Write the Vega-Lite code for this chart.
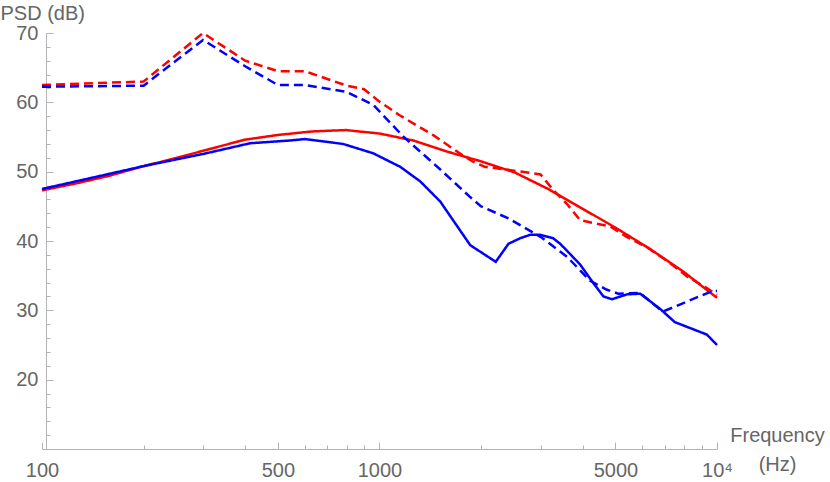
{
  "$schema": "https://vega.github.io/schema/vega-lite/v6.json",
  "autosize": "none",
  "width": 675,
  "height": 416,
  "padding": {"left": 42, "top": 33, "right": 113, "bottom": 33},
  "background": "white",
  "config": {
    "view": {"stroke": null},
    "font": "Liberation Sans",
    "axis": {
      "grid": false,
      "domainColor": "#b4b4b4",
      "tickColor": "#b4b4b4",
      "labelColor": "#666666",
      "titleColor": "#666666",
      "labelFont": "Liberation Sans",
      "titleFont": "Liberation Sans",
      "labelFontSize": 20,
      "titleFontSize": 20,
      "titleFontWeight": "normal"
    }
  },
  "data": {
    "values": [
      {"s": "rd", "c": "red", "d": "dashed", "f": 100, "v": 62.5},
      {"s": "rd", "c": "red", "d": "dashed", "f": 200, "v": 63.0},
      {"s": "rd", "c": "red", "d": "dashed", "f": 300, "v": 70.0},
      {"s": "rd", "c": "red", "d": "dashed", "f": 400, "v": 66.0},
      {"s": "rd", "c": "red", "d": "dashed", "f": 500, "v": 64.5},
      {"s": "rd", "c": "red", "d": "dashed", "f": 600, "v": 64.5},
      {"s": "rd", "c": "red", "d": "dashed", "f": 800, "v": 62.4},
      {"s": "rd", "c": "red", "d": "dashed", "f": 900, "v": 61.9},
      {"s": "rd", "c": "red", "d": "dashed", "f": 1000, "v": 60.1},
      {"s": "rd", "c": "red", "d": "dashed", "f": 1150, "v": 58.1},
      {"s": "rd", "c": "red", "d": "dashed", "f": 1450, "v": 55.2},
      {"s": "rd", "c": "red", "d": "dashed", "f": 1770, "v": 52.3},
      {"s": "rd", "c": "red", "d": "dashed", "f": 1900, "v": 51.4},
      {"s": "rd", "c": "red", "d": "dashed", "f": 2050, "v": 50.7},
      {"s": "rd", "c": "red", "d": "dashed", "f": 2300, "v": 50.4},
      {"s": "rd", "c": "red", "d": "dashed", "f": 3000, "v": 49.6},
      {"s": "rd", "c": "red", "d": "dashed", "f": 3280, "v": 47.3},
      {"s": "rd", "c": "red", "d": "dashed", "f": 3600, "v": 45.3},
      {"s": "rd", "c": "red", "d": "dashed", "f": 3930, "v": 43.0},
      {"s": "rd", "c": "red", "d": "dashed", "f": 4830, "v": 42.1},
      {"s": "rd", "c": "red", "d": "dashed", "f": 5400, "v": 40.6},
      {"s": "rd", "c": "red", "d": "dashed", "f": 6200, "v": 39.1},
      {"s": "rd", "c": "red", "d": "dashed", "f": 7270, "v": 36.8},
      {"s": "rd", "c": "red", "d": "dashed", "f": 8150, "v": 34.9},
      {"s": "rd", "c": "red", "d": "dashed", "f": 9330, "v": 33.2},
      {"s": "rd", "c": "red", "d": "dashed", "f": 10000, "v": 32.2},

      {"s": "rs", "c": "red", "d": "solid", "f": 100, "v": 47.3},
      {"s": "rs", "c": "red", "d": "solid", "f": 126, "v": 48.3},
      {"s": "rs", "c": "red", "d": "solid", "f": 158, "v": 49.4},
      {"s": "rs", "c": "red", "d": "solid", "f": 200, "v": 50.8},
      {"s": "rs", "c": "red", "d": "solid", "f": 251, "v": 52.0},
      {"s": "rs", "c": "red", "d": "solid", "f": 316, "v": 53.3},
      {"s": "rs", "c": "red", "d": "solid", "f": 398, "v": 54.6},
      {"s": "rs", "c": "red", "d": "solid", "f": 501, "v": 55.3},
      {"s": "rs", "c": "red", "d": "solid", "f": 631, "v": 55.8},
      {"s": "rs", "c": "red", "d": "solid", "f": 794, "v": 56.0},
      {"s": "rs", "c": "red", "d": "solid", "f": 1000, "v": 55.5},
      {"s": "rs", "c": "red", "d": "solid", "f": 1259, "v": 54.5},
      {"s": "rs", "c": "red", "d": "solid", "f": 1585, "v": 52.9},
      {"s": "rs", "c": "red", "d": "solid", "f": 1995, "v": 51.5},
      {"s": "rs", "c": "red", "d": "solid", "f": 2512, "v": 49.9},
      {"s": "rs", "c": "red", "d": "solid", "f": 3162, "v": 47.5},
      {"s": "rs", "c": "red", "d": "solid", "f": 3981, "v": 44.7},
      {"s": "rs", "c": "red", "d": "solid", "f": 5012, "v": 41.9},
      {"s": "rs", "c": "red", "d": "solid", "f": 6310, "v": 38.9},
      {"s": "rs", "c": "red", "d": "solid", "f": 7943, "v": 35.6},
      {"s": "rs", "c": "red", "d": "solid", "f": 10000, "v": 31.8},

      {"s": "bd", "c": "blue", "d": "dashed", "f": 100, "v": 62.25},
      {"s": "bd", "c": "blue", "d": "dashed", "f": 200, "v": 62.4},
      {"s": "bd", "c": "blue", "d": "dashed", "f": 300, "v": 69.0},
      {"s": "bd", "c": "blue", "d": "dashed", "f": 400, "v": 65.2},
      {"s": "bd", "c": "blue", "d": "dashed", "f": 500, "v": 62.5},
      {"s": "bd", "c": "blue", "d": "dashed", "f": 600, "v": 62.5},
      {"s": "bd", "c": "blue", "d": "dashed", "f": 800, "v": 61.5},
      {"s": "bd", "c": "blue", "d": "dashed", "f": 960, "v": 59.6},
      {"s": "bd", "c": "blue", "d": "dashed", "f": 1180, "v": 55.0},
      {"s": "bd", "c": "blue", "d": "dashed", "f": 1500, "v": 50.5},
      {"s": "bd", "c": "blue", "d": "dashed", "f": 1860, "v": 46.3},
      {"s": "bd", "c": "blue", "d": "dashed", "f": 2000, "v": 45.0},
      {"s": "bd", "c": "blue", "d": "dashed", "f": 2400, "v": 43.3},
      {"s": "bd", "c": "blue", "d": "dashed", "f": 3000, "v": 40.6},
      {"s": "bd", "c": "blue", "d": "dashed", "f": 3600, "v": 37.7},
      {"s": "bd", "c": "blue", "d": "dashed", "f": 4200, "v": 34.3},
      {"s": "bd", "c": "blue", "d": "dashed", "f": 4700, "v": 33.0},
      {"s": "bd", "c": "blue", "d": "dashed", "f": 5100, "v": 32.4},
      {"s": "bd", "c": "blue", "d": "dashed", "f": 5920, "v": 32.5},
      {"s": "bd", "c": "blue", "d": "dashed", "f": 6900, "v": 29.8},
      {"s": "bd", "c": "blue", "d": "dashed", "f": 9700, "v": 32.8},
      {"s": "bd", "c": "blue", "d": "dashed", "f": 10000, "v": 32.8},

      {"s": "bs", "c": "blue", "d": "solid", "f": 100, "v": 47.5},
      {"s": "bs", "c": "blue", "d": "solid", "f": 200, "v": 50.8},
      {"s": "bs", "c": "blue", "d": "solid", "f": 300, "v": 52.55},
      {"s": "bs", "c": "blue", "d": "solid", "f": 414, "v": 54.1},
      {"s": "bs", "c": "blue", "d": "solid", "f": 544, "v": 54.5},
      {"s": "bs", "c": "blue", "d": "solid", "f": 600, "v": 54.7},
      {"s": "bs", "c": "blue", "d": "solid", "f": 780, "v": 54.0},
      {"s": "bs", "c": "blue", "d": "solid", "f": 958, "v": 52.65},
      {"s": "bs", "c": "blue", "d": "solid", "f": 1152, "v": 50.7},
      {"s": "bs", "c": "blue", "d": "solid", "f": 1320, "v": 48.6},
      {"s": "bs", "c": "blue", "d": "solid", "f": 1513, "v": 45.7},
      {"s": "bs", "c": "blue", "d": "solid", "f": 1857, "v": 39.4},
      {"s": "bs", "c": "blue", "d": "solid", "f": 2210, "v": 37.0},
      {"s": "bs", "c": "blue", "d": "solid", "f": 2411, "v": 39.6},
      {"s": "bs", "c": "blue", "d": "solid", "f": 2612, "v": 40.4},
      {"s": "bs", "c": "blue", "d": "solid", "f": 2796, "v": 40.9},
      {"s": "bs", "c": "blue", "d": "solid", "f": 2993, "v": 40.9},
      {"s": "bs", "c": "blue", "d": "solid", "f": 3271, "v": 40.4},
      {"s": "bs", "c": "blue", "d": "solid", "f": 3430, "v": 39.6},
      {"s": "bs", "c": "blue", "d": "solid", "f": 3592, "v": 38.6},
      {"s": "bs", "c": "blue", "d": "solid", "f": 3932, "v": 36.6},
      {"s": "bs", "c": "blue", "d": "solid", "f": 4305, "v": 33.9},
      {"s": "bs", "c": "blue", "d": "solid", "f": 4610, "v": 32.0},
      {"s": "bs", "c": "blue", "d": "solid", "f": 4883, "v": 31.6},
      {"s": "bs", "c": "blue", "d": "solid", "f": 5408, "v": 32.3},
      {"s": "bs", "c": "blue", "d": "solid", "f": 5922, "v": 32.4},
      {"s": "bs", "c": "blue", "d": "solid", "f": 6787, "v": 30.2},
      {"s": "bs", "c": "blue", "d": "solid", "f": 7500, "v": 28.3},
      {"s": "bs", "c": "blue", "d": "solid", "f": 9333, "v": 26.5},
      {"s": "bs", "c": "blue", "d": "solid", "f": 10000, "v": 25.0}
    ]
  },
  "mark": {"type": "line", "strokeWidth": 2.5, "clip": false},
  "encoding": {
    "x": {
      "field": "f",
      "type": "quantitative",
      "scale": {"type": "log", "domain": [100, 10000], "nice": false},
      "axis": {
        "values": [100, 200, 300, 400, 500, 600, 700, 800, 900, 1000, 2000, 3000, 4000, 5000, 6000, 7000, 8000, 9000, 10000],
        "labelExpr": "datum.value == 100 ? '100' : datum.value == 500 ? '500' : datum.value == 1000 ? '1000' : datum.value == 5000 ? '5000' : datum.value == 10000 ? '10⁴' : ''",
        "labelOverlap": false,
        "labelFlush": false,
        "tickSize": {"condition": {"test": "datum.value == 100 || datum.value == 500 || datum.value == 1000 || datum.value == 5000 || datum.value == 10000", "value": -7}, "value": -4},
        "labelPadding": 18,
        "title": ["Frequency", "(Hz)"],
        "titleAlign": "center",
        "titleBaseline": "alphabetic",
        "titleAnchor": null,
        "titleX": 735,
        "titleY": -8,
        "titleLineHeight": 29
      }
    },
    "y": {
      "field": "v",
      "type": "quantitative",
      "scale": {"domain": [10, 70], "nice": false, "zero": false},
      "axis": {
        "values": [12, 14, 16, 18, 20, 22, 24, 26, 28, 30, 32, 34, 36, 38, 40, 42, 44, 46, 48, 50, 52, 54, 56, 58, 60, 62, 64, 66, 68, 70],
        "labelExpr": "datum.value % 10 == 0 ? format(datum.value, 'd') : ''",
        "labelOverlap": false,
        "labelFlush": false,
        "offset": -4,
        "tickSize": {"condition": {"test": "datum.value % 10 == 0", "value": -7}, "value": -4},
        "labelPadding": 15,
        "title": "PSD (dB)",
        "titleAngle": 0,
        "titleAlign": "left",
        "titleBaseline": "alphabetic",
        "titleAnchor": null,
        "titleX": -46,
        "titleY": -14
      }
    },
    "color": {
      "field": "c",
      "type": "nominal",
      "scale": {"domain": ["red", "blue"], "range": ["#ff0000", "#0000ff"]},
      "legend": null
    },
    "strokeDash": {
      "field": "d",
      "type": "nominal",
      "scale": {"domain": ["solid", "dashed"], "range": [[1, 0], [9, 5]]},
      "legend": null
    },
    "detail": {"field": "s", "type": "nominal"}
  }
}
